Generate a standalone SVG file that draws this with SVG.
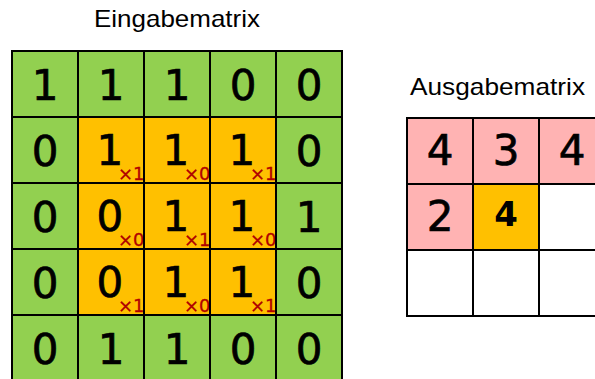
<svg xmlns="http://www.w3.org/2000/svg" width="595" height="379" viewBox="0 0 595 379">
<style>
.g{fill:#92D050;stroke:#000;stroke-width:2}
.o{fill:#FFC000;stroke:#000;stroke-width:2}
.p{fill:#FFB3B3;stroke:#000;stroke-width:2}
.w{fill:#FFFFFF;stroke:#000;stroke-width:2}
.d{font-family:"DejaVu Sans",sans-serif;font-size:42px;fill:#000;stroke:#000;stroke-width:0.7;text-anchor:middle}
.s{font-family:"DejaVu Sans",sans-serif;font-size:42px;fill:#000;stroke:#000;stroke-width:0.7}
.b{font-family:"DejaVu Sans",sans-serif;font-size:34px;font-weight:bold;fill:#000;text-anchor:middle}
.k{font-size:18px;fill:#B00000;stroke:#B00000;stroke-width:0.3}
.t{font-family:"Liberation Sans",Arial,sans-serif;font-size:24px;fill:#000}
</style>
<rect width="595" height="379" fill="#fff"/>
<text class="t" x="94" y="27" textLength="166" lengthAdjust="spacingAndGlyphs">Eingabematrix</text>
<text class="t" x="410" y="95" textLength="175" lengthAdjust="spacingAndGlyphs">Ausgabematrix</text>
<g id="input">
<rect class="g" x="12" y="51" width="66" height="66"/><text class="d" x="45" y="100">1</text>
<rect class="g" x="78" y="51" width="66" height="66"/><text class="d" x="111" y="100">1</text>
<rect class="g" x="144" y="51" width="66" height="66"/><text class="d" x="177" y="100">1</text>
<rect class="g" x="210" y="51" width="66" height="66"/><text class="d" x="243" y="100">0</text>
<rect class="g" x="276" y="51" width="66" height="66"/><text class="d" x="309" y="100">0</text>

<rect class="g" x="12" y="117" width="66" height="66"/><text class="d" x="45" y="166">0</text>
<rect class="o" x="78" y="117" width="66" height="66"/><text class="s" x="96.6" y="165">1<tspan class="k" dx="-5.4" dy="15">×1</tspan></text>
<rect class="o" x="144" y="117" width="66" height="66"/><text class="s" x="162.6" y="165">1<tspan class="k" dx="-5.4" dy="15">×0</tspan></text>
<rect class="o" x="210" y="117" width="66" height="66"/><text class="s" x="228.6" y="165">1<tspan class="k" dx="-5.4" dy="15">×1</tspan></text>
<rect class="g" x="276" y="117" width="66" height="66"/><text class="d" x="309" y="166">0</text>

<rect class="g" x="12" y="183" width="66" height="66"/><text class="d" x="45" y="232">0</text>
<rect class="o" x="78" y="183" width="66" height="66"/><text class="s" x="96.6" y="231">0<tspan class="k" dx="-5.4" dy="15">×0</tspan></text>
<rect class="o" x="144" y="183" width="66" height="66"/><text class="s" x="162.6" y="231">1<tspan class="k" dx="-5.4" dy="15">×1</tspan></text>
<rect class="o" x="210" y="183" width="66" height="66"/><text class="s" x="228.6" y="231">1<tspan class="k" dx="-5.4" dy="15">×0</tspan></text>
<rect class="g" x="276" y="183" width="66" height="66"/><text class="d" x="309" y="232">1</text>

<rect class="g" x="12" y="249" width="66" height="66"/><text class="d" x="45" y="298">0</text>
<rect class="o" x="78" y="249" width="66" height="66"/><text class="s" x="96.6" y="297">0<tspan class="k" dx="-5.4" dy="15">×1</tspan></text>
<rect class="o" x="144" y="249" width="66" height="66"/><text class="s" x="162.6" y="297">1<tspan class="k" dx="-5.4" dy="15">×0</tspan></text>
<rect class="o" x="210" y="249" width="66" height="66"/><text class="s" x="228.6" y="297">1<tspan class="k" dx="-5.4" dy="15">×1</tspan></text>
<rect class="g" x="276" y="249" width="66" height="66"/><text class="d" x="309" y="298">0</text>

<rect class="g" x="12" y="315" width="66" height="66"/><text class="d" x="45" y="364">0</text>
<rect class="g" x="78" y="315" width="66" height="66"/><text class="d" x="111" y="364">1</text>
<rect class="g" x="144" y="315" width="66" height="66"/><text class="d" x="177" y="364">1</text>
<rect class="g" x="210" y="315" width="66" height="66"/><text class="d" x="243" y="364">0</text>
<rect class="g" x="276" y="315" width="66" height="66"/><text class="d" x="309" y="364">0</text>
</g>
<g id="output">
<rect class="p" x="407" y="118" width="66" height="66"/><text class="d" x="440" y="165">4</text>
<rect class="p" x="473" y="118" width="66" height="66"/><text class="d" x="506" y="165">3</text>
<rect class="p" x="539" y="118" width="66" height="66"/><text class="d" x="572" y="165">4</text>
<rect class="p" x="407" y="184" width="66" height="66"/><text class="d" x="440" y="231">2</text>
<rect class="o" x="473" y="184" width="66" height="66"/><text class="b" x="506" y="226">4</text>
<rect class="w" x="539" y="184" width="66" height="66"/>
<rect class="w" x="407" y="250" width="66" height="66"/>
<rect class="w" x="473" y="250" width="66" height="66"/>
<rect class="w" x="539" y="250" width="66" height="66"/>
</g>
<g id="connectors"/>
</svg>
